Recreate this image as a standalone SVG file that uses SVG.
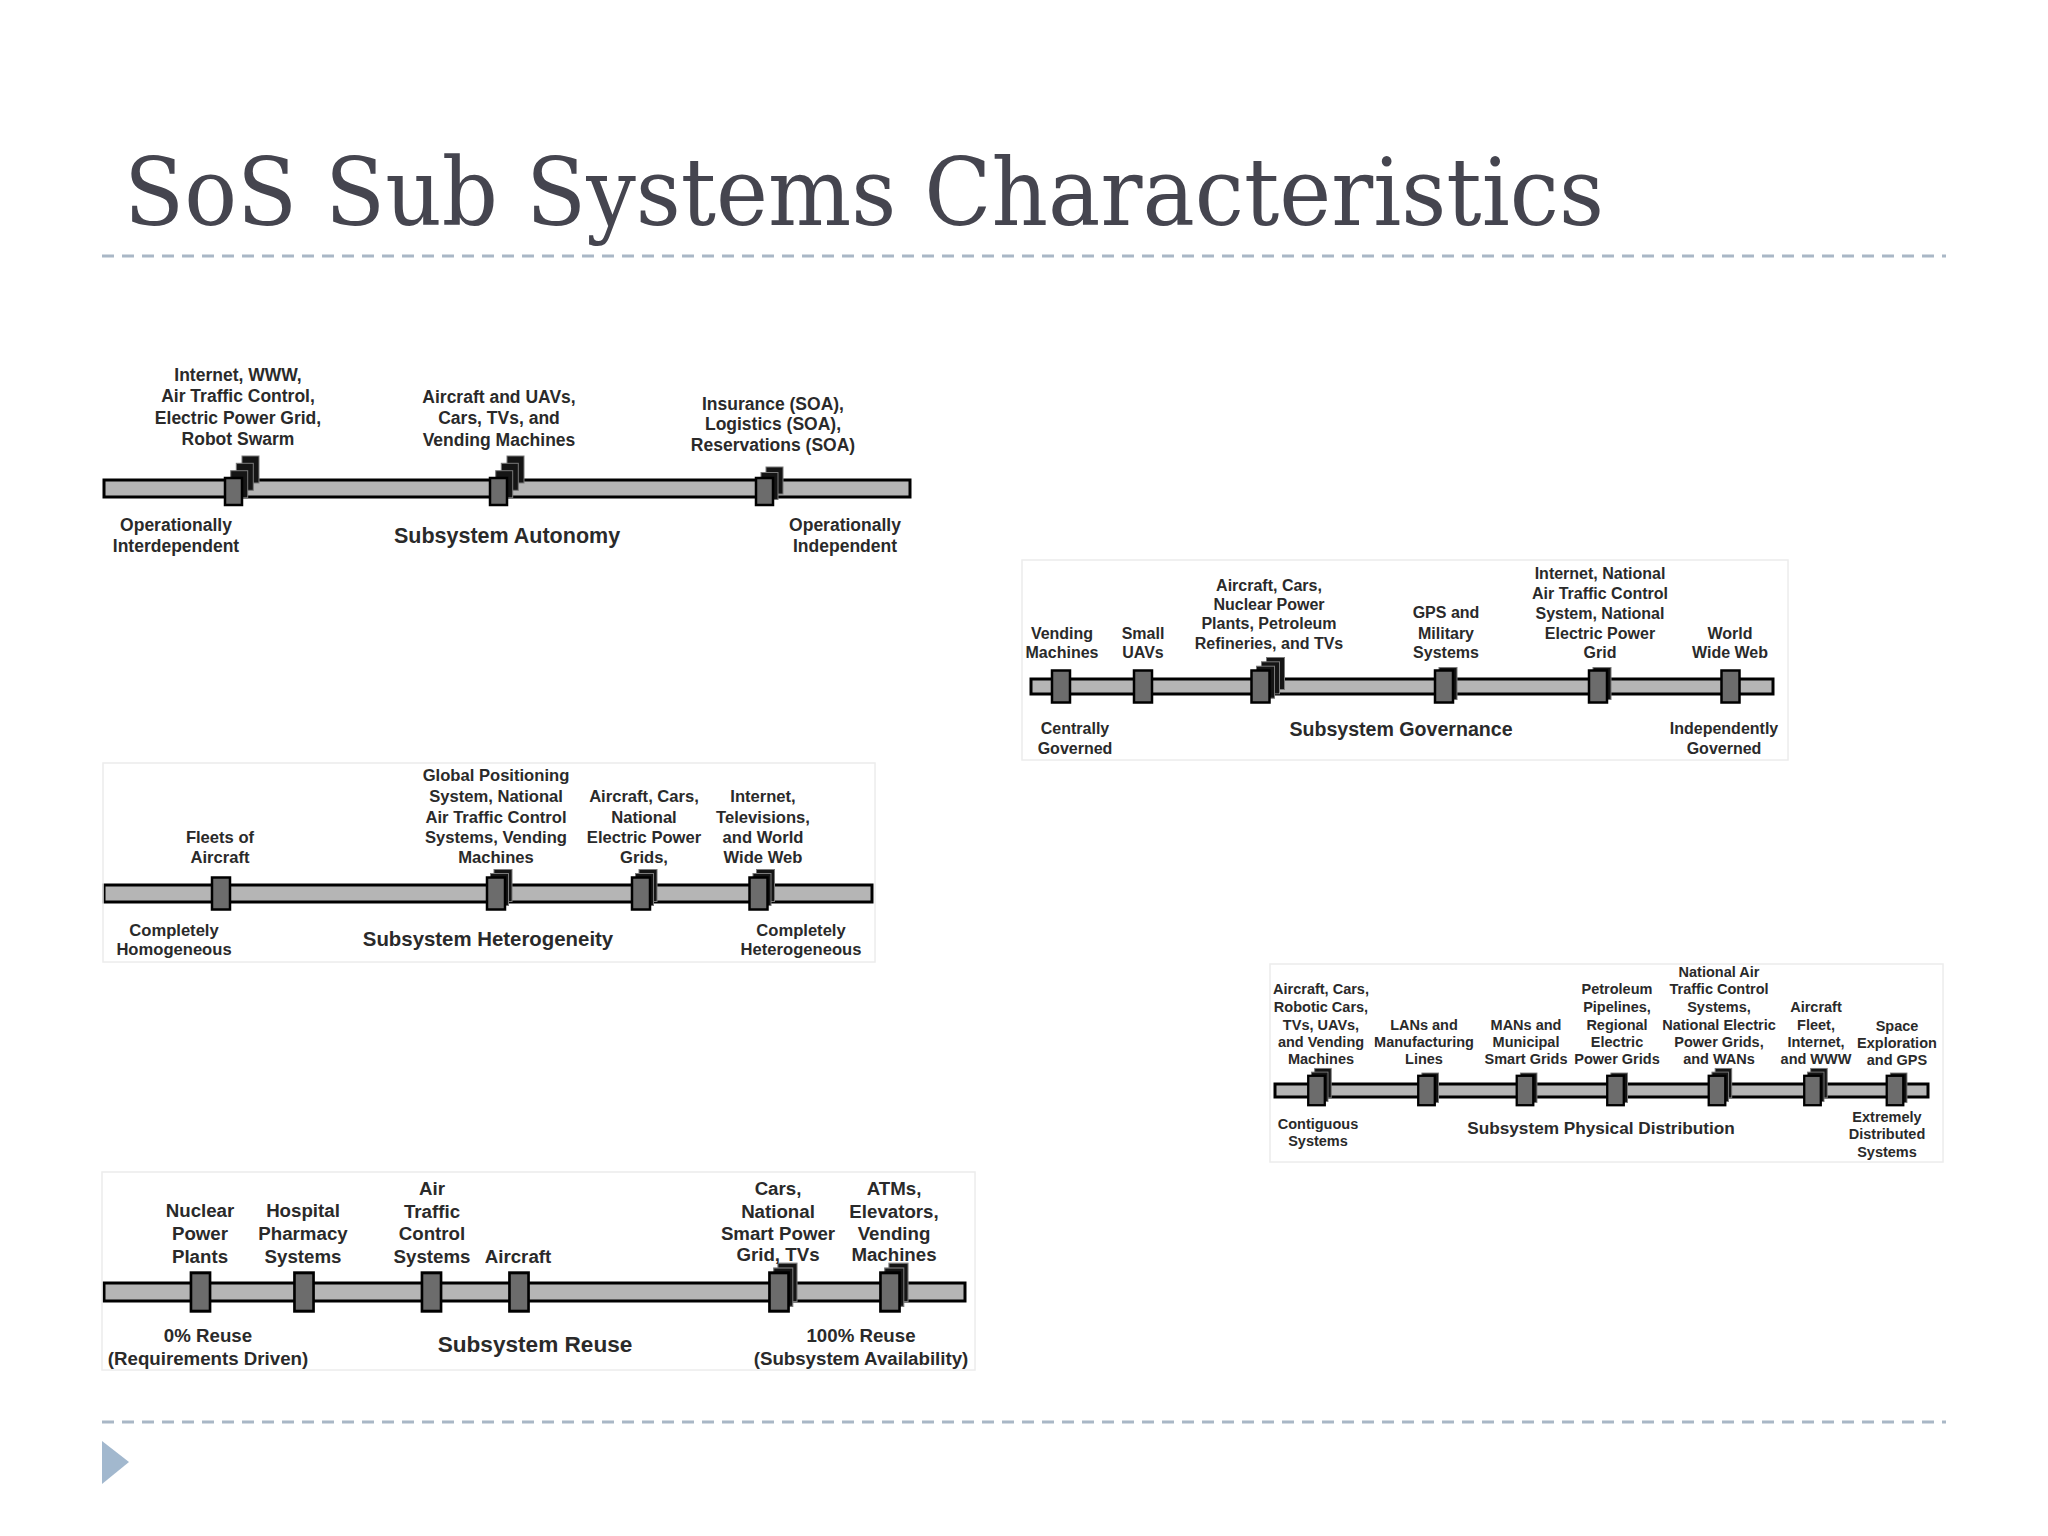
<svg xmlns="http://www.w3.org/2000/svg" width="2048" height="1536" viewBox="0 0 2048 1536">
<style>
.lbl{font-family:"Liberation Sans",Arial,Helvetica,sans-serif;font-weight:bold;fill:#2a2a2a;text-anchor:middle}
.f1{font-size:17.5px}.t1{font-size:21.5px}
.f2{font-size:16px}.t2{font-size:19.6px}
.f3{font-size:16.6px}.t3{font-size:20.4px}
.f4{font-size:14.5px}.t4{font-size:17.2px}
.f5{font-size:18.7px}.t5{font-size:22.6px}
.bar{fill:#b5b5b5;stroke:#000;stroke-width:3}
.fr{fill:#6c6c6c;stroke:#000;stroke-width:2.5}
.bk{fill:#151515;stroke:#7a7a7a;stroke-width:1}
.panel{fill:none;stroke:#ececec;stroke-width:1.5}
.dash{stroke:#a9b7c6;stroke-width:3;stroke-dasharray:12 8;fill:none}
</style>
<defs>
<g id="S"><rect class="fr" x="-9" y="-16" width="18" height="32"/></g>
<g id="D1"><rect class="bk" x="-5" y="-19" width="18" height="32"/><rect class="fr" x="-9" y="-16" width="18" height="32"/></g>
<g id="H3"><rect class="bk" x="-2" y="-24" width="18" height="32"/><rect class="bk" x="-5.5" y="-20" width="18" height="32"/><rect class="fr" x="-9" y="-16" width="18" height="32"/></g>
<g id="G3"><rect class="bk" x="6" y="-29" width="18" height="32"/><rect class="bk" x="1" y="-24.7" width="18" height="32"/><rect class="bk" x="-4" y="-20.3" width="18" height="32"/><rect class="fr" x="-9" y="-16" width="18" height="32"/></g>
<g id="R3"><rect class="bk" x="-1" y="-24" width="18" height="32"/><rect class="bk" x="-5" y="-20" width="18" height="32"/><rect class="fr" x="-9" y="-16" width="18" height="32"/></g>
<g id="A3"><rect class="bk" x="8.5" y="-32.5" width="17" height="27"/><rect class="bk" x="2.8" y="-25.2" width="17" height="27"/><rect class="bk" x="-2.8" y="-17.8" width="17" height="27"/><rect class="fr" x="-8.5" y="-10.5" width="17" height="27"/></g>
<g id="A2"><rect class="bk" x="1.5" y="-21.5" width="17" height="27"/><rect class="bk" x="-3.5" y="-16" width="17" height="27"/><rect class="fr" x="-8.5" y="-10.5" width="17" height="27"/></g>
</defs>
<rect width="2048" height="1536" fill="#ffffff"/>
<g id="title">
<text x="124" y="225" font-family="DejaVu Serif,Liberation Serif,serif" font-size="93" fill="#45454f" textLength="1480" lengthAdjust="spacingAndGlyphs">SoS Sub Systems Characteristics</text>
</g>
<g id="decor">
<line class="dash" x1="102" y1="256" x2="1946" y2="256"/>
<line class="dash" x1="102" y1="1422" x2="1946" y2="1422"/>
<polygon points="102,1441 129,1462 102,1484" fill="#a2b8ce"/>
</g>
<g id="connectors">
<rect class="bar" x="104" y="480" width="806" height="17"/>
<rect class="bar" x="1031" y="679" width="742" height="15"/>
<rect class="bar" x="104" y="885" width="768" height="17"/>
<rect class="bar" x="1275" y="1084" width="653" height="13"/>
<rect class="bar" x="104" y="1283" width="861" height="18"/>
</g>
<g id="panel-autonomy">
<g id="a-m1"><use href="#A3" transform="translate(233.5,488.5)"/><text class="lbl f1"><tspan x="238" y="381">Internet, WWW,</tspan><tspan x="238" y="402">Air Traffic Control,</tspan><tspan x="238" y="424">Electric Power Grid,</tspan><tspan x="238" y="445">Robot Swarm</tspan></text></g>
<g id="a-m2"><use href="#A3" transform="translate(498.5,488.5)"/><text class="lbl f1"><tspan x="499" y="403">Aircraft and UAVs,</tspan><tspan x="499" y="424">Cars, TVs, and</tspan><tspan x="499" y="446">Vending Machines</tspan></text></g>
<g id="a-m3"><use href="#A2" transform="translate(764.5,488.5)"/><text class="lbl f1"><tspan x="773" y="410">Insurance (SOA),</tspan><tspan x="773" y="430">Logistics (SOA),</tspan><tspan x="773" y="451">Reservations (SOA)</tspan></text></g>
<text class="lbl f1"><tspan x="176" y="531">Operationally</tspan><tspan x="176" y="552">Interdependent</tspan></text>
<text class="lbl t1" x="507" y="543">Subsystem Autonomy</text>
<text class="lbl f1"><tspan x="845" y="531">Operationally</tspan><tspan x="845" y="552">Independent</tspan></text>
</g>
<g id="panel-governance">
<rect class="panel" x="1022" y="560" width="766" height="200"/>
<g id="g-m1"><use href="#S" transform="translate(1061,686.5)"/><text class="lbl f2"><tspan x="1062" y="639">Vending</tspan><tspan x="1062" y="658">Machines</tspan></text></g>
<g id="g-m2"><use href="#S" transform="translate(1143,686.5)"/><text class="lbl f2"><tspan x="1143" y="639">Small</tspan><tspan x="1143" y="658">UAVs</tspan></text></g>
<g id="g-m3"><use href="#G3" transform="translate(1260.5,686.5)"/><text class="lbl f2"><tspan x="1269" y="591">Aircraft, Cars,</tspan><tspan x="1269" y="610">Nuclear Power</tspan><tspan x="1269" y="629">Plants, Petroleum</tspan><tspan x="1269" y="649">Refineries, and TVs</tspan></text></g>
<g id="g-m4"><use href="#D1" transform="translate(1444,686.5)"/><text class="lbl f2"><tspan x="1446" y="618">GPS and</tspan><tspan x="1446" y="639">Military</tspan><tspan x="1446" y="658">Systems</tspan></text></g>
<g id="g-m5"><use href="#D1" transform="translate(1598,686.5)"/><text class="lbl f2"><tspan x="1600" y="579">Internet, National</tspan><tspan x="1600" y="599">Air Traffic Control</tspan><tspan x="1600" y="619">System, National</tspan><tspan x="1600" y="639">Electric Power</tspan><tspan x="1600" y="658">Grid</tspan></text></g>
<g id="g-m6"><use href="#S" transform="translate(1730.5,686.5)"/><text class="lbl f2"><tspan x="1730" y="639">World</tspan><tspan x="1730" y="658">Wide Web</tspan></text></g>
<text class="lbl f2"><tspan x="1075" y="734">Centrally</tspan><tspan x="1075" y="754">Governed</tspan></text>
<text class="lbl t2" x="1401" y="736">Subsystem Governance</text>
<text class="lbl f2"><tspan x="1724" y="734">Independently</tspan><tspan x="1724" y="754">Governed</tspan></text>
</g>
<g id="panel-heterogeneity">
<rect class="panel" x="103" y="763" width="772" height="199"/>
<g id="h-m1"><use href="#S" transform="translate(221,893.5)"/><text class="lbl f3"><tspan x="220" y="843">Fleets of</tspan><tspan x="220" y="863">Aircraft</tspan></text></g>
<g id="h-m2"><use href="#H3" transform="translate(496,893.5)"/><text class="lbl f3"><tspan x="496" y="781">Global Positioning</tspan><tspan x="496" y="802">System, National</tspan><tspan x="496" y="823">Air Traffic Control</tspan><tspan x="496" y="843">Systems, Vending</tspan><tspan x="496" y="863">Machines</tspan></text></g>
<g id="h-m3"><use href="#H3" transform="translate(641,893.5)"/><text class="lbl f3"><tspan x="644" y="802">Aircraft, Cars,</tspan><tspan x="644" y="823">National</tspan><tspan x="644" y="843">Electric Power</tspan><tspan x="644" y="863">Grids,</tspan></text></g>
<g id="h-m4"><use href="#H3" transform="translate(758.5,893.5)"/><text class="lbl f3"><tspan x="763" y="802">Internet,</tspan><tspan x="763" y="823">Televisions,</tspan><tspan x="763" y="843">and World</tspan><tspan x="763" y="863">Wide Web</tspan></text></g>
<text class="lbl f3"><tspan x="174" y="936">Completely</tspan><tspan x="174" y="955">Homogeneous</tspan></text>
<text class="lbl t3" x="488" y="946">Subsystem Heterogeneity</text>
<text class="lbl f3"><tspan x="801" y="936">Completely</tspan><tspan x="801" y="955">Heterogeneous</tspan></text>
</g>
<g id="panel-distribution">
<rect class="panel" x="1270" y="964" width="673" height="198"/>
<g id="d-m1"><use href="#H3" transform="translate(1316.5,1090.5) scale(0.92)"/><text class="lbl f4"><tspan x="1321" y="994">Aircraft, Cars,</tspan><tspan x="1321" y="1012">Robotic Cars,</tspan><tspan x="1321" y="1030">TVs, UAVs,</tspan><tspan x="1321" y="1047">and Vending</tspan><tspan x="1321" y="1064">Machines</tspan></text></g>
<g id="d-m2"><use href="#D1" transform="translate(1426.5,1090.5) scale(0.92)"/><text class="lbl f4"><tspan x="1424" y="1030">LANs and</tspan><tspan x="1424" y="1047">Manufacturing</tspan><tspan x="1424" y="1064">Lines</tspan></text></g>
<g id="d-m3"><use href="#D1" transform="translate(1525,1090.5) scale(0.92)"/><text class="lbl f4"><tspan x="1526" y="1030">MANs and</tspan><tspan x="1526" y="1047">Municipal</tspan><tspan x="1526" y="1064">Smart Grids</tspan></text></g>
<g id="d-m4"><use href="#D1" transform="translate(1615.5,1090.5) scale(0.92)"/><text class="lbl f4"><tspan x="1617" y="994">Petroleum</tspan><tspan x="1617" y="1012">Pipelines,</tspan><tspan x="1617" y="1030">Regional</tspan><tspan x="1617" y="1047">Electric</tspan><tspan x="1617" y="1064">Power Grids</tspan></text></g>
<g id="d-m5"><use href="#H3" transform="translate(1717,1090.5) scale(0.92)"/><text class="lbl f4"><tspan x="1719" y="977">National Air</tspan><tspan x="1719" y="994">Traffic Control</tspan><tspan x="1719" y="1012">Systems,</tspan><tspan x="1719" y="1030">National Electric</tspan><tspan x="1719" y="1047">Power Grids,</tspan><tspan x="1719" y="1064">and WANs</tspan></text></g>
<g id="d-m6"><use href="#H3" transform="translate(1812.5,1090.5) scale(0.92)"/><text class="lbl f4"><tspan x="1816" y="1012">Aircraft</tspan><tspan x="1816" y="1030">Fleet,</tspan><tspan x="1816" y="1047">Internet,</tspan><tspan x="1816" y="1064">and WWW</tspan></text></g>
<g id="d-m7"><use href="#D1" transform="translate(1895,1090.5) scale(0.92)"/><text class="lbl f4"><tspan x="1897" y="1031">Space</tspan><tspan x="1897" y="1048">Exploration</tspan><tspan x="1897" y="1065">and GPS</tspan></text></g>
<text class="lbl f4"><tspan x="1318" y="1129">Contiguous</tspan><tspan x="1318" y="1146">Systems</tspan></text>
<text class="lbl t4" x="1601" y="1134">Subsystem Physical Distribution</text>
<text class="lbl f4"><tspan x="1887" y="1122">Extremely</tspan><tspan x="1887" y="1139">Distributed</tspan><tspan x="1887" y="1157">Systems</tspan></text>
</g>
<g id="panel-reuse">
<rect class="panel" x="102" y="1172" width="873" height="198"/>
<g id="r-m1"><use href="#S" transform="translate(200.5,1292) scale(1.06,1.2)"/><text class="lbl f5"><tspan x="200" y="1217">Nuclear</tspan><tspan x="200" y="1240">Power</tspan><tspan x="200" y="1263">Plants</tspan></text></g>
<g id="r-m2"><use href="#S" transform="translate(304,1292) scale(1.06,1.2)"/><text class="lbl f5"><tspan x="303" y="1217">Hospital</tspan><tspan x="303" y="1240">Pharmacy</tspan><tspan x="303" y="1263">Systems</tspan></text></g>
<g id="r-m3"><use href="#S" transform="translate(431.5,1292) scale(1.06,1.2)"/><text class="lbl f5"><tspan x="432" y="1195">Air</tspan><tspan x="432" y="1218">Traffic</tspan><tspan x="432" y="1240">Control</tspan><tspan x="432" y="1263">Systems</tspan></text></g>
<g id="r-m4"><use href="#S" transform="translate(519,1292) scale(1.06,1.2)"/><text class="lbl f5" x="518" y="1263">Aircraft</text></g>
<g id="r-m5"><use href="#R3" transform="translate(779,1292) scale(1.06,1.2)"/><text class="lbl f5"><tspan x="778" y="1195">Cars,</tspan><tspan x="778" y="1218">National</tspan><tspan x="778" y="1240">Smart Power</tspan><tspan x="778" y="1261">Grid, TVs</tspan></text></g>
<g id="r-m6"><use href="#R3" transform="translate(890,1292) scale(1.06,1.2)"/><text class="lbl f5"><tspan x="894" y="1195">ATMs,</tspan><tspan x="894" y="1218">Elevators,</tspan><tspan x="894" y="1240">Vending</tspan><tspan x="894" y="1261">Machines</tspan></text></g>
<text class="lbl f5"><tspan x="208" y="1342">0% Reuse</tspan><tspan x="208" y="1365">(Requirements Driven)</tspan></text>
<text class="lbl t5" x="535" y="1352">Subsystem Reuse</text>
<text class="lbl f5"><tspan x="861" y="1342">100% Reuse</tspan><tspan x="861" y="1365">(Subsystem Availability)</tspan></text>
</g>
</svg>
